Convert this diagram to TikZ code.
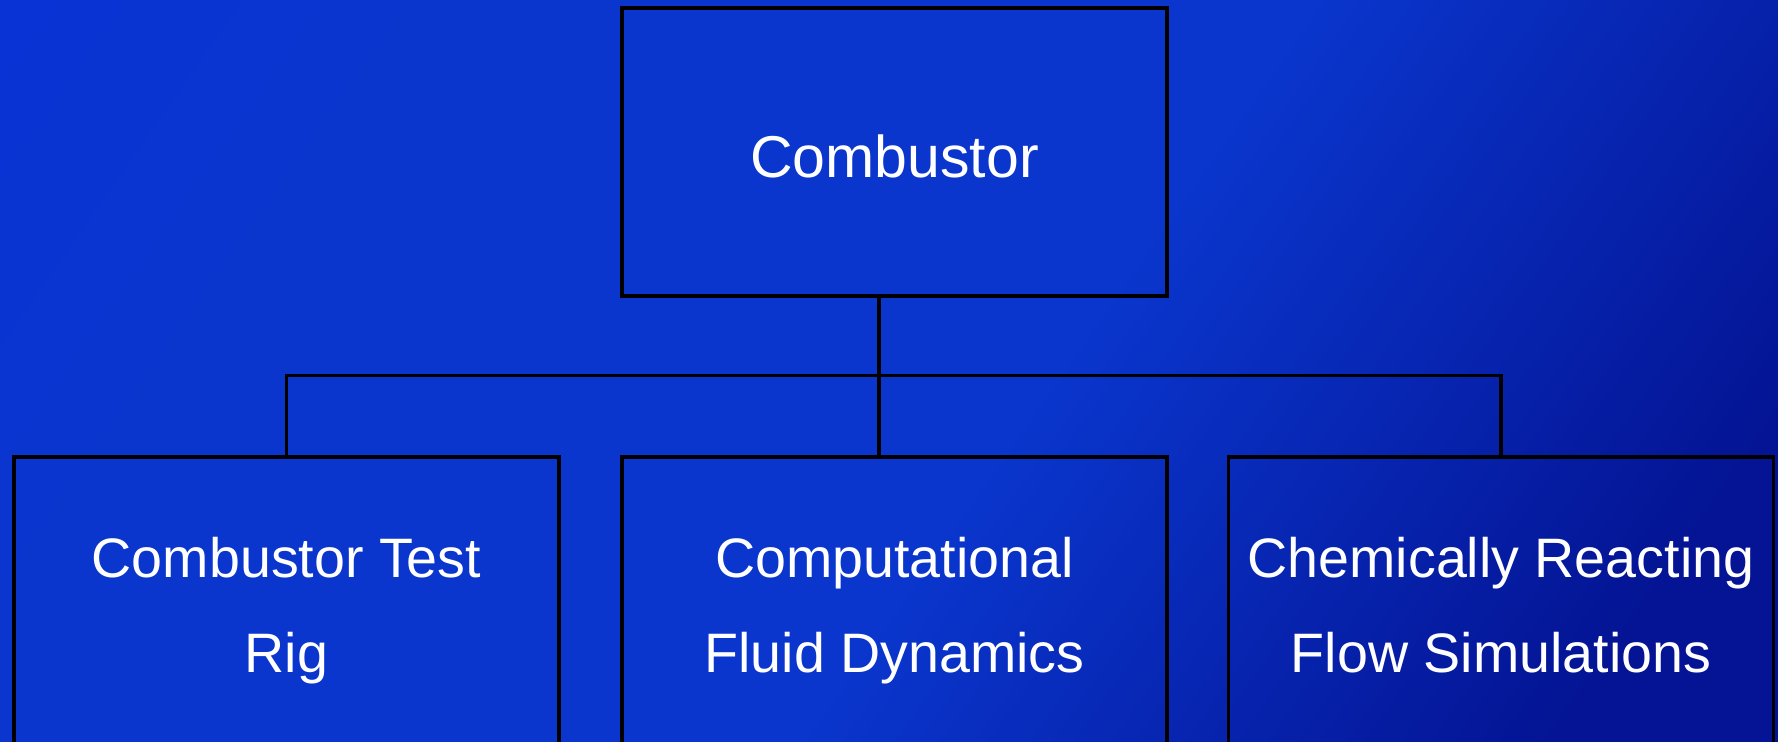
\documentclass[tikz,border=0pt]{standalone}
\usepackage{fontspec}
\setmainfont{Liberation Sans}
\definecolor{bgA}{RGB}{8,48,220}
\definecolor{bgB}{RGB}{10,54,205}
\definecolor{bgC}{RGB}{4,20,148}
\pgfdeclareverticalshading{bgsh}{100bp}{color(0bp)=(bgC); color(22bp)=(bgC); color(45bp)=(bgB); color(70bp)=(bgB); color(100bp)=(bgA)}
\tikzset{
  box/.style={draw=black, line width=1.75pt, minimum width=272.5pt, inner sep=0pt,
    text=white, align=center},
  topbox/.style={box, minimum height=144pt, text height=26pt, text depth=0pt,
    font=\fontsize{29.5}{47.5}\selectfont},
  subbox/.style={box, minimum height=149.5pt, font=\fontsize{27.8}{47.5}\selectfont},
  link/.style={draw=black, line width=1.6pt}
}
\begin{document}
\begin{tikzpicture}[x=0.5pt,y=-0.5pt]
\useasboundingbox (0,0) rectangle (1778,742);
\clip (0,0) rectangle (1778,742);
\shade[shading=bgsh, shading angle=55] (0,0) rectangle (1778,742);
\node[topbox] (top) at (894.5,152) {Combustor};
\node[subbox] (rig) at (286.5,606.5) {\strut Combustor Test\\\strut Rig};
\node[subbox] (cfd) at (894.5,606.5) {\strut Computational\\\strut Fluid Dynamics};
\node[subbox] (crf) at (1501,606.5) {\strut Chemically Reacting\\\strut Flow Simulations};
\coordinate (j) at (879,375.5);
\draw[link] (top.south -| j) -- (j) -- (cfd.north -| j);
\draw[link] (rig.north) -- (rig.north |- j) -- (crf.north |- j) -- (crf.north);
\end{tikzpicture}
\end{document}
